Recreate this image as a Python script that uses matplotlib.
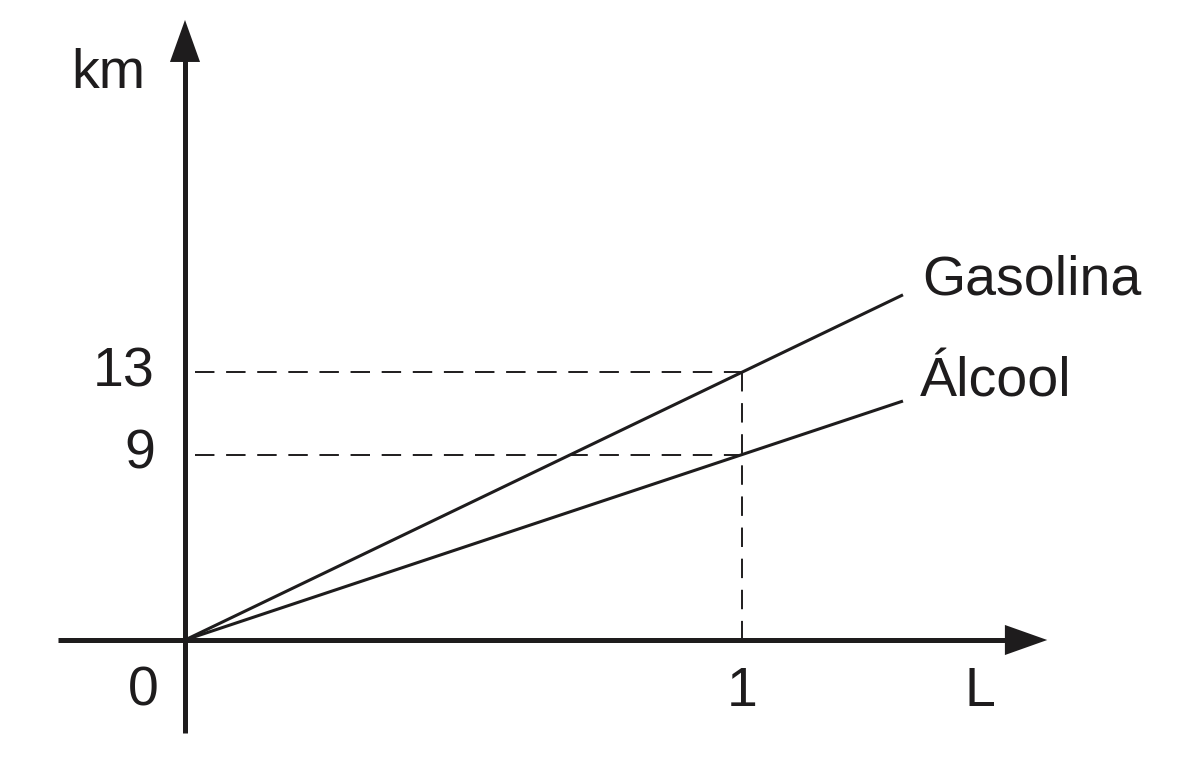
import numpy as np
import matplotlib
matplotlib.use("Agg")
import matplotlib.pyplot as plt

plt.rcParams['font.family'] = ['Liberation Sans', 'DejaVu Sans']

# dados do grafico: km percorridos por litro
series = ["Gasolina", "Álcool"]
km_per_l = [13, 9]
x_end = 1.289          # ate onde as retas vao
x_tick = [0, 1]
y_ticks = [9, 13]

ink = '#1e1c1d'

fig = plt.figure(figsize=(12, 7.59), dpi=100)
ax = fig.add_axes([0, 0, 1, 1])
# escala: 557 px por litro, 20.6 px por km
ax.set_xlim(-185 / 557, (1200 - 185) / 557)
ax.set_ylim(-(759 - 640) / 20.6, 640 / 20.6)
ax.axis('off')

# eixos
ax.plot([-0.228, 1.48], [0, 0], color=ink, lw=3.6, solid_capstyle='butt')
ax.plot([0, 0], [-4.51, 28.2], color=ink, lw=3.6, solid_capstyle='butt')
ax.fill([1.472, 1.548, 1.472], [0.73, 0, -0.73], color=ink, lw=0)
ax.fill([-0.027, 0, 0.027], [28.06, 30.1, 28.06], color=ink, lw=0)

# retas
for name, k in zip(series, km_per_l):
    xs = np.array([0, x_end])
    ax.plot(xs, k * xs, color=ink, lw=2.2, solid_capstyle='butt')

# linhas tracejadas
for k in km_per_l:
    ax.plot([0.018, 1], [k, k], color=ink, lw=1.4, dashes=(10, 6))
ax.plot([1, 1], [max(km_per_l), 0], color=ink, lw=1.4, dashes=(10, 6))

fs = 40
for k in y_ticks:
    ax.text(-0.054, k, str(k), fontsize=fs, color=ink, ha='right', va='center')
ax.text(-0.075, -3.2, '0', fontsize=fs, color=ink, ha='center', va='baseline')
ax.text(1, -3.2, '1', fontsize=fs, color=ink, ha='center', va='baseline')
ax.text(1.427, -3.2, 'L', fontsize=fs, color=ink, ha='center', va='baseline')
ax.text(-0.072, 26.8, 'km', fontsize=fs, color=ink, ha='right', va='baseline')
ax.text(1.323, 16.75, 'Gasolina', fontsize=fs, color=ink, ha='left', va='baseline')
ax.text(1.320, 11.8, 'Álcool', fontsize=fs, color=ink, ha='left', va='baseline')

fig.savefig('out.png', dpi=100, facecolor='white')
